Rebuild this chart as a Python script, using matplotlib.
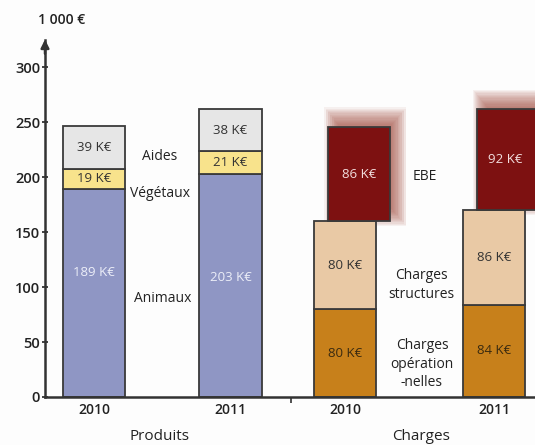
import matplotlib.pyplot as plt
from matplotlib.patches import Rectangle

plt.rcParams['font.family'] = ['Open Sans', 'DejaVu Sans']

# data (K€)
years = ['2010', '2011']
animaux = [189, 203]
vegetaux = [19, 21]
aides = [39, 38]
charges_op = [80, 84]
charges_struct = [80, 86]
ebe = [86, 92]

# layout
prod_x = [0.49, 1.855]
chg_x = [3.005, 4.49]
width = 0.62
ebe_shift = 0.14
edge = '#3a3a3a'

fig = plt.figure(figsize=(5.35, 4.45), dpi=100)
fig.patch.set_facecolor('#fdfdfd')
ax = fig.add_axes([45 / 535, 48 / 445, 490 / 535, 357 / 445])
ax.set_facecolor('#fdfdfd')
ax.set_xlim(0, 4.9)
ax.set_ylim(0, 325)

# produits
ax.bar(prod_x, animaux, width, color='#8f96c4', edgecolor=edge, linewidth=1.3, zorder=3)
ax.bar(prod_x, vegetaux, width, bottom=animaux, color='#f8e38c', edgecolor=edge, linewidth=1.3, zorder=3)
b2 = [a + v for a, v in zip(animaux, vegetaux)]
ax.bar(prod_x, aides, width, bottom=b2, color='#e6e6e6', edgecolor=edge, linewidth=1.3, zorder=3)

# charges
ax.bar(chg_x, charges_op, width, color='#c7801b', edgecolor=edge, linewidth=1.3, zorder=3)
ax.bar(chg_x, charges_struct, width, bottom=charges_op, color='#e9c9a5', edgecolor=edge, linewidth=1.3, zorder=3)
b3 = [a + s for a, s in zip(charges_op, charges_struct)]
ebe_x = [x + ebe_shift for x in chg_x]

# blurred drop shadow behind EBE, offset up-right (1 px = 0.01 x, 1.1 y)
for i in range(10, -6, -1):
    for x, b, h in zip(ebe_x, b3, ebe):
        px, py = i * 0.01, i * 1.1
        ax.add_patch(Rectangle((x - width / 2 + 0.06 - px, b + 6.6 - py),
                               width + 2 * px, h + 2 * py,
                               facecolor='#a24a3c', edgecolor='none',
                               alpha=0.07, zorder=2, clip_on=False))
ax.bar(ebe_x, ebe, width, bottom=b3, color='#7d1111', edgecolor=edge, linewidth=1.3, zorder=3)

# value labels
def lab(x, y, v, c):
    ax.text(x, y, f'{v} K€', ha='center', va='center', fontsize=9.5, color=c, zorder=4)

anim_lab_y = [113, 109]
for i in range(2):
    lab(prod_x[i], anim_lab_y[i], animaux[i], '#eceef8')
    lab(prod_x[i], animaux[i] + vegetaux[i] / 2, vegetaux[i], '#333333')
    lab(prod_x[i], b2[i] + aides[i] / 2, aides[i], '#333333')
    lab(chg_x[i], charges_op[i] / 2, charges_op[i], '#3a2a10')
    lab(chg_x[i], charges_op[i] + charges_struct[i] / 2, charges_struct[i], '#333333')
    lab(ebe_x[i] - 0.03 * i, b3[i] + ebe[i] / 2, ebe[i], '#f2dede')

# category labels
tk = dict(ha='center', va='center', fontsize=10, color='#222222')
ax.text(1.15, 219, 'Aides', **tk)
ax.text(1.15, 185, 'Végétaux', **tk)
ax.text(1.18, 90, 'Animaux', **tk)
ax.text(3.8, 201, 'EBE', **tk)
ax.text(3.76, 102, 'Charges\nstructures', **tk, linespacing=1.3)
ax.text(3.77, 30, 'Charges\nopération\n-nelles', **tk, linespacing=1.3)

# axes
for s in ['top', 'right', 'bottom']:
    ax.spines[s].set_visible(False)
ax.spines['left'].set_color('#333333')
ax.spines['left'].set_linewidth(1.8)
ax.axhline(0, color='#333333', lw=1.8, zorder=5, clip_on=False)
ax.annotate('', xy=(0, 328), xytext=(0, 310), xycoords='data',
            arrowprops=dict(arrowstyle='-|>', color='#333333', lw=1.8, mutation_scale=12),
            annotation_clip=False)
ax.set_yticks(range(0, 301, 50))
ax.tick_params(axis='y', direction='inout', length=5, width=1.3, color='#333333',
               labelsize=10.5, labelcolor='#222222', pad=1)
for t in ax.get_yticklabels():
    t.set_fontweight('semibold')
ax.set_xticks([2.46])
ax.set_xticklabels([''])
ax.tick_params(axis='x', direction='out', length=4, width=1.2, color='#333333')
for x, y in zip(prod_x + chg_x, years + years):
    ax.text(x, -12, y, ha='center', va='center', fontsize=10, color='#222222',
            fontweight='semibold')
ax.text(1.15, -36, 'Produits', ha='center', va='center', fontsize=11, color='#222222')
ax.text(3.76, -36, 'Charges', ha='center', va='center', fontsize=11, color='#222222')
fig.text(38 / 535, 1 - 20 / 445, '1 000 €', ha='left', va='center', fontsize=10,
         color='#222222', fontweight='semibold')

fig.savefig('out.png', dpi=100, facecolor=fig.get_facecolor())
